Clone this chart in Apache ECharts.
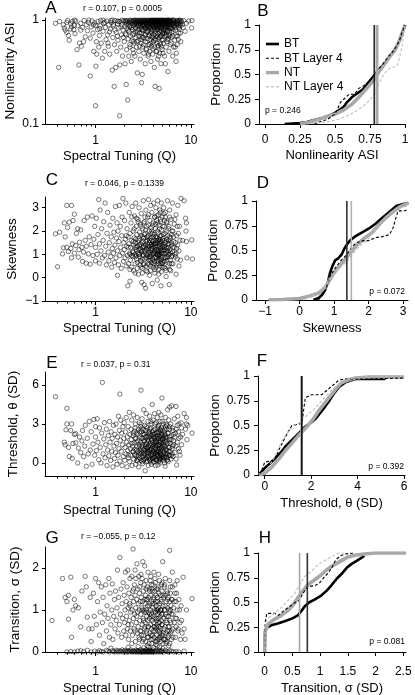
<!DOCTYPE html>
<html><head><meta charset="utf-8">
<script src="https://cdn.jsdelivr.net/npm/echarts@6/dist/echarts.min.js"></script>
<style>html,body{margin:0;padding:0;background:#fff}#c{width:415px;height:695px}</style>
</head><body><div id="c"></div>
<script>
// ---------------- DATA ----------------
// Panel A: Spectral tuning Q vs Nonlinearity ASI
const scatterA = [[0.38,0.93],[0.41,0.35],[0.42,0.97],[0.46,0.9],[0.47,0.84],[0.48,0.8],[0.5,0.76],[0.5,0.95],[0.51,0.99],[0.52,0.71],[0.53,0.64],[0.55,0.92],[0.56,0.86],[0.57,0.97],[0.59,0.81],[0.6,0.89],[0.61,0.74],[0.62,0.98],[0.64,0.52],[0.65,0.88],[0.67,0.37],[0.68,0.6],[0.7,0.93],[0.71,0.56],[0.73,0.85],[0.75,0.62],[0.76,0.99],[0.78,0.69],[0.8,0.9],[0.82,0.79],[0.84,0.95],[0.88,0.29],[0.88,0.67],[0.9,0.86],[0.92,0.98],[0.94,0.75],[0.96,0.5],[0.98,0.94],[1.0,0.15],[1.0,0.89],[1.01,0.36],[1.02,0.62],[1.03,0.47],[1.05,0.81],[1.06,0.97],[1.08,0.55],[1.1,0.71],[1.12,0.88],[1.13,0.99],[1.15,0.6],[1.18,0.43],[1.2,0.78],[1.22,0.93],[1.25,0.5],[1.27,0.85],[1.29,0.65],[1.31,0.98],[1.34,0.72],[1.36,0.56],[1.38,0.9],[1.41,0.47],[1.43,0.82],[1.46,0.95],[1.5,0.33],[1.52,0.68],[1.54,0.88],[1.57,0.23],[1.58,0.58],[1.6,0.99],[1.63,0.35],[1.65,0.76],[1.67,0.5],[1.7,0.92],[1.72,0.64],[1.75,0.84],[1.79,0.12],[1.8,0.37],[1.81,0.97],[1.84,0.55],[1.87,0.72],[1.9,0.9],[1.92,0.45],[1.95,0.8],[1.97,0.98],
[2.0,0.62],[2.02,0.87],[2.04,0.38],[2.06,0.74],[2.08,0.96],[2.1,0.24],[2.11,0.92],[2.12,0.52],[2.14,0.83],[2.16,0.99],[2.18,0.17],[2.2,0.66],[2.21,0.9],[2.23,0.45],[2.25,0.78],[2.27,0.96],[2.29,0.58],[2.31,0.86],[2.33,0.7],[2.35,0.99],[2.37,0.4],[2.39,0.93],[2.41,0.63],[2.43,0.81],[2.45,0.97],[2.47,0.52],[2.49,0.88],[2.51,0.74],[2.53,0.99],[2.55,0.6],[2.57,0.94],[2.59,0.45],[2.61,0.84],[2.63,0.98],[2.65,0.68],[2.67,0.9],[2.69,0.55],[2.71,0.95],[2.73,0.77],[2.75,0.31],[2.77,0.87],[2.79,0.99],[2.81,0.63],[2.83,0.92],[2.85,0.5],[2.87,0.82],[2.89,0.97],[2.91,0.7],[2.93,0.93],[2.95,0.42],[2.97,0.88],[2.99,0.99],
[3.0,0.6],[3.02,0.85],[3.04,0.25],[3.05,0.95],[3.07,0.75],[3.09,0.3],[3.1,0.9],[3.12,0.55],[3.14,0.98],[3.16,0.8],[3.18,0.68],[3.2,0.94],[3.22,0.48],[3.24,0.87],[3.26,0.99],[3.28,0.72],[3.3,0.92],[3.32,0.38],[3.34,0.62],[3.36,0.96],[3.38,0.83],[3.4,0.99],[3.42,0.53],[3.44,0.9],[3.46,0.76],[3.48,0.95],[3.5,0.66],[3.52,0.88],[3.54,0.99],[3.56,0.45],[3.58,0.8],[3.6,0.93],[3.62,0.58],[3.64,0.97],[3.66,0.72],[3.68,0.86],[3.7,0.99],[3.72,0.5],[3.74,0.91],[3.76,0.65],[3.78,0.83],[3.8,0.98],[3.82,0.4],[3.84,0.75],[3.86,0.94],[3.88,0.56],[3.9,0.88],[3.92,0.99],[3.94,0.68],[3.96,0.92],[3.98,0.47],
[4.0,0.8],[4.02,0.97],[4.04,0.62],[4.06,0.86],[4.08,0.99],[4.1,0.72],[4.12,0.9],[4.14,0.35],[4.16,0.55],[4.18,0.95],[4.2,0.78],[4.22,0.23],[4.24,0.88],[4.26,0.99],[4.28,0.64],[4.3,0.93],[4.32,0.5],[4.34,0.84],[4.36,0.97],[4.38,0.7],[4.4,0.9],[4.42,0.6],[4.44,0.99],[4.46,0.81],[4.48,0.42],[4.5,0.94],[4.52,0.74],[4.54,0.87],[4.56,0.99],[4.58,0.57],[4.6,0.92],[4.62,0.67],[4.64,0.85],[4.66,0.22],[4.68,0.97],[4.7,0.77],[4.72,0.48],[4.74,0.92],[4.76,0.6],[4.78,0.99],[4.8,0.83],[4.82,0.7],[4.84,0.95],[4.86,0.38],[4.88,0.88],[4.9,0.55],[4.92,0.99],[4.94,0.78],[4.96,0.93],[4.98,0.65],
[5.02,0.86],[5.06,0.97],[5.1,0.48],[5.13,0.77],[5.16,0.92],[5.2,0.6],[5.24,0.99],[5.28,0.83],[5.32,0.7],[5.36,0.95],[5.4,0.38],[5.45,0.88],[5.5,0.55],[5.55,0.99],[5.6,0.78],[5.65,0.93],[5.7,0.65],[5.75,0.32],[5.8,0.86],[5.85,0.98],[5.9,0.5],[5.95,0.9],[6.0,0.72],[6.05,0.99],[6.15,0.84],[6.25,0.6],[6.35,0.95],[6.45,0.45],[6.55,0.78],[6.65,0.97],[6.75,0.88],[6.85,0.55],[6.95,0.92],[7.0,0.4],[7.05,0.48],[7.15,0.99],[7.25,0.7],[7.45,0.85],[7.65,0.95],[7.85,0.62],[8.1,0.9],[8.4,0.99],[8.7,0.78],[9.0,0.93],[9.5,0.98],[10.2,0.84],[10.3,0.99],
[2.3,1.0],[2.4,0.97],[2.5,0.99],[2.6,1.0],[2.7,0.96],[2.8,1.0],[2.9,0.98],[3.0,1.0],[3.1,0.97],[3.2,1.0],[3.3,0.99],[3.4,0.96],[3.5,1.0],[3.6,0.98],[3.7,0.96],[3.8,1.0],[3.9,0.97],[4.0,1.0],[4.1,0.98],[4.2,1.0],[4.3,0.96],[4.4,1.0],[4.5,0.98],[4.6,1.0],[4.7,0.96],[4.8,0.99],[4.9,1.0],[5.0,0.97],[5.2,1.0],[5.4,0.98],[5.6,1.0],[5.8,0.96],[6.0,1.0],[6.2,0.97],[6.4,1.0],[2.55,0.91],[2.85,0.89],[3.15,0.91],[3.45,0.86],[3.75,0.9],[4.05,0.89],[4.35,0.91],[4.65,0.88],[4.95,0.9],[5.3,0.89],[5.7,0.91],[6.1,0.87],[3.05,0.82],[3.55,0.84],[4.15,0.82],[4.75,0.8],[5.45,0.82],[2.75,0.8],[3.85,0.78],[4.45,0.7],[3.35,0.73],[5.05,0.74],[2.45,0.72],[5.6,0.7],[6.3,0.9],[6.6,1.0],[7.3,0.97],[7.6,1.0],[1.5,1.0],[1.7,0.98],[1.9,1.0],[2.1,0.98],[1.2,1.0],[0.85,1.0],[0.6,1.0],
[5.1,0.99],[5.3,0.95],[5.5,0.91],[5.7,0.99],[5.9,0.94],[6.1,0.97],[6.3,0.85],[6.5,0.93],[6.7,0.99],[6.9,0.8],[7.1,0.9],[7.3,0.99],[7.5,0.75],[7.7,0.88],[7.9,0.97],[5.2,0.8],[5.5,0.72],[5.8,0.66],[6.1,0.58],[6.4,0.7],[6.8,0.64],[7.2,0.58],[2.2,0.8],[2.4,0.85],[2.6,0.77],[2.8,0.7],[3.0,0.65],[3.2,0.58],[3.4,0.52],[3.6,0.47],[3.8,0.6],[4.0,0.53],[4.2,0.66],[4.4,0.5],[4.6,0.45],[4.8,0.58],[5.0,0.52],[5.3,0.45],[2.3,0.55],[2.5,0.48],[2.7,0.62],[2.9,0.75],[3.1,0.68],[3.3,0.84],[3.5,0.78],[3.7,0.7],[3.9,0.8],[4.1,0.85],[4.3,0.74],[4.5,0.82],[4.7,0.86],[4.9,0.7],[5.1,0.64],[5.4,0.86],[5.7,0.8],[6.0,0.83],[1.1,0.83],[1.25,0.95],[1.4,0.77],[1.55,0.91],[1.7,0.7],[1.85,0.86],[1.35,0.6],[1.6,0.8],[1.75,0.97],[1.95,0.68],[0.95,0.9],[0.7,0.8],[0.55,0.82],[1.45,0.99],[2.05,0.99],[2.65,0.99],[3.25,0.97],[3.85,0.99],[4.55,0.97],[5.15,0.99],[5.75,0.98],[6.45,0.99],[3.65,0.92],[4.25,0.94],[2.95,0.95],[3.95,0.96],[4.85,0.93],[5.55,0.96],
[5.2,0.9],[5.4,0.93],[5.6,0.85],[5.8,0.9],[6.0,0.95],[6.2,0.91],[6.4,0.82],[6.6,0.88],[6.8,0.95],[7.0,0.85],[7.2,0.92],[7.4,0.9],[7.6,0.82],[7.8,0.93],[8.0,0.98],[8.3,0.85],[5.3,0.75],[5.6,0.62],[5.9,0.78],[6.2,0.68],[6.6,0.55],[7.0,0.7],[7.4,0.65],[7.8,0.75],[2.1,0.72],[2.3,0.88],[2.5,0.62],[2.7,0.92],[2.9,0.56],[3.1,0.8],[3.3,0.66],[3.5,0.88],[3.7,0.58],[3.9,0.7],[4.1,0.64],[4.3,0.88],[4.5,0.56],[4.7,0.68],[4.9,0.84],[5.1,0.74],[5.5,0.8],[5.9,0.7],[6.3,0.76],[2.2,0.95],[2.6,0.94],[3.0,0.97],[3.4,0.93],[3.8,0.95],[4.2,0.97],[4.6,0.95],[5.0,0.94],[5.4,0.99],[5.8,1.0],[6.6,0.93],[7.2,0.95],[7.7,0.99],[3.2,0.88],[3.6,0.86],[4.0,0.9],[4.4,0.86]];

// Panel C: Q vs Skewness
const scatterC = [[0.38,1.88],[0.4,0.47],[0.42,1.95],[0.45,1.02],[0.46,1.28],[0.47,2.35],[0.48,1.75],[0.5,3.1],[0.5,1.3],[0.51,2.15],[0.52,1.12],[0.53,2.38],[0.55,1.25],[0.56,3.1],[0.56,0.85],[0.57,1.45],[0.58,2.45],[0.6,1.05],[0.6,2.72],[0.62,1.38],[0.63,1.9],[0.65,2.1],[0.66,0.88],[0.67,1.2],[0.68,1.52],[0.7,2.05],[0.72,1.3],[0.73,0.7],[0.75,1.1],[0.76,2.45],[0.78,1.6],[0.8,0.62],[0.8,1.35],[0.82,2.6],[0.84,1.02],[0.86,1.75],[0.88,0.58],[0.9,1.42],[0.92,2.65],[0.94,0.95],[0.96,1.65],[0.98,2.2],[1.0,0.72],[1.0,1.3],[1.02,2.55],[1.04,1.0],[1.06,1.85],[1.08,3.35],[1.1,0.62],[1.1,1.45],[1.12,2.9],[1.14,1.15],[1.16,2.1],[1.18,0.85],[1.2,1.6],[1.22,2.4],[1.24,0.95],[1.26,3.2],[1.28,1.35],[1.3,0.55],[1.32,1.9],[1.34,2.8],[1.36,1.1],[1.38,0.72],[1.4,1.5],[1.42,2.25],[1.44,0.9],[1.46,1.75],[1.48,0.45],[1.5,1.25],[1.52,2.55],[1.54,1.05],[1.56,1.95],[1.58,0.65],[1.6,1.4],[1.62,3.05],[1.64,0.85],[1.66,1.7],[1.68,2.35],[1.7,0.1],[1.7,1.15],[1.72,2.0],[1.74,0.55],[1.76,1.55],[1.78,3.1],[1.8,0.95],[1.82,2.2],[1.84,1.3],[1.86,0.4],[1.88,1.8],[1.9,2.6],[1.92,1.05],[1.94,3.4],[1.96,0.7],[1.98,1.5],
[2.0,1.2],[2.02,2.45],[2.04,0.85],[2.06,1.65],[2.08,3.2],[2.1,0.5],[2.12,1.35],[2.14,2.1],[2.16,0.95],[2.18,-0.35],[2.2,1.75],[2.22,0.6],[2.24,1.45],[2.26,2.8],[2.28,1.05],[2.3,-0.15],[2.3,1.9],[2.32,0.75],[2.34,1.3],[2.36,2.35],[2.38,0.45],[2.4,1.6],[2.42,3.05],[2.44,1.1],[2.46,0.9],[2.48,2.0],[2.5,1.4],[2.52,0.3],[2.54,1.7],[2.56,2.65],[2.58,1.0],[2.6,0.6],[2.62,1.5],[2.64,3.2],[2.66,1.2],[2.68,2.2],[2.7,0.8],[2.72,1.85],[2.74,0.4],[2.76,1.35],[2.78,2.5],[2.8,1.05],[2.82,0.15],[2.84,1.6],[2.86,3.0],[2.88,0.9],[2.9,1.95],[2.92,1.25],[2.94,0.55],[2.96,2.3],[2.98,1.45],
[3.0,0.7],[3.0,1.8],[3.02,2.75],[3.04,1.1],[3.06,-0.2],[3.08,1.5],[3.1,0.4],[3.12,2.1],[3.14,1.3],[3.16,0.95],[3.18,3.3],[3.2,1.7],[3.22,0.6],[3.24,-0.3],[3.26,2.4],[3.28,1.15],[3.3,0.8],[3.32,1.9],[3.34,1.4],[3.36,-0.45],[3.38,2.9],[3.4,0.5],[3.42,1.25],[3.44,2.2],[3.46,1.0],[3.48,1.6],[3.5,0.25],[3.52,2.6],[3.54,1.35],[3.56,0.85],[3.58,1.8],[3.6,3.35],[3.62,1.1],[3.64,0.55],[3.66,2.0],[3.68,1.5],[3.7,0.9],[3.72,2.45],[3.74,1.2],[3.76,0.3],[3.78,1.7],[3.8,3.1],[3.82,1.0],[3.84,2.15],[3.86,0.65],[3.88,1.45],[3.9,2.8],[3.92,1.25],[3.94,-0.25],[3.96,1.9],[3.98,0.8],
[4.0,1.55],[4.02,2.35],[4.04,1.05],[4.06,0.45],[4.08,3.2],[4.1,1.35],[4.12,1.85],[4.14,0.7],[4.16,2.6],[4.18,1.15],[4.2,0.2],[4.22,1.6],[4.24,2.1],[4.26,0.9],[4.28,1.4],[4.3,3.0],[4.32,0.55],[4.34,1.75],[4.36,1.2],[4.38,2.45],[4.4,0.85],[4.42,1.5],[4.44,-0.1],[4.46,2.0],[4.48,1.0],[4.5,3.3],[4.52,1.3],[4.54,0.6],[4.56,1.9],[4.58,2.7],[4.6,1.1],[4.62,0.35],[4.64,1.65],[4.66,2.25],[4.68,0.8],[4.7,1.45],[4.72,2.9],[4.74,1.0],[4.76,0.5],[4.78,1.8],[4.8,1.25],[4.82,2.4],[4.84,0.7],[4.86,-0.35],[4.88,1.55],[4.9,3.2],[4.92,1.05],[4.94,2.05],[4.96,0.9],[4.98,1.4],
[5.02,2.6],[5.06,0.65],[5.1,1.7],[5.14,1.15],[5.18,3.0],[5.22,0.45],[5.26,2.2],[5.3,1.3],[5.34,0.85],[5.38,1.9],[5.42,2.8],[5.46,1.05],[5.5,0.3],[5.54,1.55],[5.58,2.4],[5.62,0.75],[5.66,1.25],[5.7,3.3],[5.74,1.8],[5.78,0.5],[5.82,1.0],[5.86,2.1],[5.9,1.45],[5.94,-0.3],[5.98,0.6],[6.0,2.9],[6.05,1.2],[6.1,1.7],[6.15,0.3],[6.2,2.5],[6.25,0.9],[6.3,1.4],[6.35,2.0],[6.4,3.2],[6.45,1.1],[6.5,0.6],[6.6,1.75],[6.7,2.3],[6.8,1.0],[6.9,1.5],[7.0,0.15],[7.0,2.7],[7.1,1.25],[7.2,0.8],[7.3,3.1],[7.4,1.9],[7.5,1.15],[7.6,2.2],[7.8,0.75],[7.9,3.4],[8.2,1.6],[8.5,3.3],[8.8,2.55],[8.9,2.0],[9.0,2.35],[9.0,1.55],[9.1,0.85],[10.2,1.62],[10.4,0.8],
[2.5,1.1],[2.6,0.9],[2.7,1.3],[2.8,1.5],[2.9,1.0],[3.0,1.2],[3.1,0.8],[3.2,1.35],[3.3,1.05],[3.4,1.55],[3.5,0.95],[3.6,1.25],[3.7,1.6],[3.8,0.75],[3.9,1.15],[4.0,1.0],[4.1,1.45],[4.2,0.85],[4.3,1.3],[4.4,1.7],[4.5,0.95],[4.6,1.2],[4.7,1.0],[4.8,1.5],[4.9,0.8],[5.0,1.3],[5.2,1.05],[5.4,1.5],[5.6,0.9],[5.8,1.3],[6.0,1.0],[2.65,1.65],[2.95,0.75],[3.25,1.85],[3.55,0.6],[3.85,1.4],[4.15,1.1],[4.45,0.7],[4.75,1.35],[5.05,1.6],[5.35,0.7],[5.65,1.15],[3.15,1.55],[3.45,1.2],[3.75,0.9],[4.05,1.75],[4.35,1.0],[4.65,1.6],[4.95,1.15],[5.25,1.35],[2.85,1.2],[3.65,1.0],[4.25,1.5],[4.85,0.6],
[2.6,1.3],[2.75,0.65],[2.9,1.7],[3.05,1.15],[3.2,0.55],[3.35,2.05],[3.5,1.45],[3.65,0.75],[3.8,1.9],[3.95,1.35],[4.1,0.6],[4.25,2.3],[4.4,1.2],[4.55,0.75],[4.7,2.1],[4.85,1.15],[5.0,0.45],[5.15,1.85],[5.3,2.45],[5.45,0.85],[5.6,1.65],[5.75,1.1],[5.9,2.2],[6.1,0.75],[6.3,1.85],[6.5,1.3],[2.55,2.1],[2.7,2.55],[3.0,2.2],[3.3,2.6],[3.6,2.25],[3.9,2.0],[4.2,2.6],[4.5,2.35],[4.8,2.8],[5.1,2.2],[5.4,2.6],[2.4,0.95],[2.2,1.3],[2.1,1.8],[2.3,0.35],[3.1,0.2],[3.7,0.1],[4.3,0.45],[4.9,0.25],[5.5,0.05],[6.0,0.35],[3.4,0.85],[4.0,0.75],[4.6,0.95],[5.2,0.7],[3.15,1.0],[3.85,1.25],[4.45,1.6],[5.05,1.05],[2.85,1.0],[3.55,1.7],[4.15,1.45],[4.75,0.9],[5.35,1.2],
[5.5,1.3],[5.7,0.9],[5.9,1.6],[6.1,1.1],[6.3,0.6],[6.5,2.0],[6.7,1.3],[6.9,0.9],[7.1,1.8],[7.3,1.4],[7.5,0.5],[7.7,1.6],[5.6,2.0],[5.8,1.45],[6.0,1.75],[6.2,1.5],[6.4,0.95],[6.6,1.55],[6.8,2.5],[7.0,1.05],[7.2,2.2],[2.3,1.0],[2.5,1.55],[2.7,0.95],[2.9,1.4],[3.1,1.75],[3.3,1.3],[3.5,1.75],[3.7,1.35],[3.9,1.6],[4.1,1.05],[4.3,1.75],[4.5,1.15],[4.7,1.55],[4.9,1.8],[5.1,1.35],[5.3,1.6],[2.4,2.6],[2.8,2.4],[3.2,2.35],[3.6,2.7],[4.0,2.25],[4.4,2.65],[4.8,2.5],[5.2,2.75],[5.6,2.35],[6.0,2.6],[2.6,0.2],[3.0,0.45],[3.4,0.3],[3.8,0.5],[4.2,0.35],[4.6,0.15],[5.0,0.6],[5.4,0.4]];

// Panel E: Q vs Threshold (SD)
const scatterE = [[0.38,5.1],[0.47,1.6],[0.48,1.4],[0.49,2.55],[0.5,4.2],[0.5,3.0],[0.52,1.2],[0.53,0.5],[0.55,2.5],[0.56,3.0],[0.57,0.35],[0.58,1.5],[0.6,2.2],[0.62,1.55],[0.62,2.25],[0.65,0.0],[0.66,1.15],[0.68,2.0],[0.7,0.8],[0.72,1.7],[0.73,2.5],[0.75,0.5],[0.77,1.3],[0.78,2.9],[0.8,-0.25],[0.82,1.9],[0.84,0.7],[0.86,3.2],[0.88,1.0],[0.9,2.4],[0.92,-0.1],[0.94,1.45],[0.96,3.35],[0.98,0.6],[1.0,2.0],[1.0,2.8],[1.02,0.95],[1.04,3.4],[1.06,1.6],[1.08,0.25],[1.1,2.7],[1.12,1.2],[1.14,0.0],[1.16,2.3],[1.18,6.2],[1.2,0.7],[1.22,1.85],[1.24,3.1],[1.26,0.4],[1.28,1.4],[1.3,2.6],[1.32,-0.2],[1.34,1.0],[1.36,2.1],[1.38,0.55],[1.4,3.2],[1.42,1.6],[1.44,0.2],[1.46,2.4],[1.48,0.9],[1.5,1.9],[1.52,-0.3],[1.54,2.9],[1.56,1.3],[1.58,0.35],[1.6,2.2],[1.62,0.8],[1.64,3.0],[1.66,1.5],[1.68,-0.1],[1.7,2.0],[1.72,0.6],[1.74,3.6],[1.76,1.1],[1.78,2.5],[1.8,5.3],[1.8,0.15],[1.82,1.75],[1.84,3.3],[1.86,0.9],[1.88,2.3],[1.9,-0.2],[1.92,1.4],[1.94,2.8],[1.96,0.5],[1.98,1.9],
[2.0,3.1],[2.02,0.2],[2.04,1.2],[2.06,2.4],[2.08,0.7],[2.1,3.5],[2.12,1.6],[2.14,-0.3],[2.16,2.0],[2.18,0.95],[2.2,2.8],[2.22,0.4],[2.24,1.4],[2.26,3.9],[2.28,0.1],[2.3,2.2],[2.32,1.1],[2.34,0.6],[2.36,2.6],[2.38,1.8],[2.4,3.3],[2.42,-0.2],[2.44,1.3],[2.46,0.85],[2.48,2.1],[2.5,3.7],[2.52,0.3],[2.54,1.55],[2.56,2.45],[2.58,0.65],[2.6,1.05],[2.62,3.0],[2.64,-0.1],[2.66,1.9],[2.68,0.5],[2.7,2.3],[2.72,1.25],[2.74,3.5],[2.76,0.15],[2.78,1.7],[2.8,0.9],[2.82,2.6],[2.84,-0.3],[2.86,1.45],[2.88,3.1],[2.9,0.4],[2.92,2.0],[2.94,1.0],[2.96,0.7],[2.98,2.8],
[3.0,5.6],[3.0,1.6],[3.02,0.2],[3.04,2.4],[3.06,0.8],[3.08,3.4],[3.1,1.2],[3.12,-0.05],[3.14,1.9],[3.16,0.55],[3.18,2.2],[3.2,4.1],[3.22,1.0],[3.24,0.3],[3.26,1.7],[3.28,2.9],[3.3,0.7],[3.32,-0.6],[3.34,1.4],[3.36,2.5],[3.38,0.9],[3.4,3.8],[3.42,0.1],[3.44,2.0],[3.46,1.15],[3.48,0.5],[3.5,2.7],[3.52,1.8],[3.54,0.75],[3.56,3.2],[3.58,-0.2],[3.6,1.3],[3.62,2.3],[3.64,0.4],[3.66,1.95],[3.68,0.95],[3.7,3.6],[3.72,0.15],[3.74,2.6],[3.76,1.5],[3.78,0.6],[3.8,2.1],[3.82,1.05],[3.84,3.0],[3.86,-0.1],[3.88,1.75],[3.9,0.8],[3.92,2.4],[3.94,4.5],[3.96,0.35],[3.98,1.25],
[4.0,2.0],[4.02,0.65],[4.04,3.3],[4.06,1.4],[4.08,0.1],[4.1,2.2],[4.12,0.9],[4.14,1.85],[4.16,3.8],[4.18,0.45],[4.2,1.55],[4.22,2.6],[4.24,-0.2],[4.26,1.1],[4.28,2.0],[4.3,0.7],[4.32,3.1],[4.34,1.3],[4.36,0.25],[4.38,2.35],[4.4,0.85],[4.42,1.7],[4.44,3.5],[4.46,0.5],[4.48,2.1],[4.5,1.0],[4.52,-0.15],[4.54,1.9],[4.56,2.8],[4.58,0.6],[4.6,1.45],[4.62,3.9],[4.64,0.3],[4.66,2.3],[4.68,1.15],[4.7,0.75],[4.72,2.05],[4.74,3.2],[4.76,0.0],[4.78,1.6],[4.8,2.5],[4.82,0.9],[4.84,1.3],[4.86,3.7],[4.88,0.4],[4.9,1.85],[4.92,2.7],[4.94,0.65],[4.96,1.2],[4.98,5.0],
[5.02,2.2],[5.06,0.5],[5.1,1.6],[5.14,3.0],[5.18,0.2],[5.22,1.9],[5.26,0.85],[5.3,2.6],[5.34,1.3],[5.38,-0.25],[5.42,3.5],[5.46,1.0],[5.5,2.0],[5.54,0.4],[5.58,2.9],[5.62,1.5],[5.66,0.7],[5.7,4.1],[5.74,2.3],[5.78,0.1],[5.82,1.2],[5.86,3.3],[5.9,0.6],[5.94,1.8],[5.98,2.6],[6.0,4.3],[6.05,0.9],[6.1,1.5],[6.15,3.0],[6.2,0.3],[6.25,2.1],[6.3,4.4],[6.35,1.1],[6.4,2.7],[6.5,0.5],[6.6,1.7],[6.7,3.4],[6.8,0.8],[6.9,2.3],[7.0,4.35],[7.0,1.3],[7.1,-0.15],[7.2,2.9],[7.3,3.6],[7.5,1.9],[7.7,0.6],[7.9,3.1],[8.2,2.2],[8.5,3.8],[8.8,2.6],[9.0,3.5],[9.0,3.0],[9.1,1.8],[9.3,2.9],[10.3,2.3],
[2.6,0.6],[2.8,0.3],[3.0,0.9],[3.1,0.45],[3.2,0.7],[3.3,1.1],[3.4,0.35],[3.5,0.8],[3.6,0.55],[3.7,1.0],[3.8,0.3],[3.9,0.65],[4.0,0.95],[4.1,0.4],[4.2,0.75],[4.3,1.05],[4.4,0.2],[4.5,0.6],[4.6,0.9],[4.7,0.45],[4.8,0.7],[4.9,1.1],[5.0,0.35],[5.2,0.75],[5.4,0.55],[5.6,1.0],[3.05,1.9],[3.25,2.2],[3.45,1.6],[3.65,2.4],[3.85,1.85],[4.05,2.5],[4.25,1.7],[4.45,2.3],[4.65,1.9],[4.85,2.1],[5.05,1.75],[5.25,2.4],[5.45,1.95],[3.15,2.6],[3.55,2.05],[3.95,2.2],[4.35,1.5],[4.75,2.6],[5.15,2.0],[3.35,1.25],[3.75,1.35],[4.15,1.2],[4.55,1.35],[4.95,1.5],[2.7,1.0],[2.9,1.3],[3.5,0.15],[4.0,0.05],[4.6,0.1],[5.3,0.0],
[2.6,1.9],[2.8,2.2],[3.0,2.6],[3.2,1.7],[3.4,2.3],[3.6,1.7],[3.8,2.7],[4.0,1.6],[4.2,2.3],[4.4,1.9],[4.6,2.4],[4.8,1.7],[5.0,2.5],[5.2,1.4],[5.4,2.2],[5.6,2.6],[5.8,1.6],[6.0,2.0],[2.7,0.2],[2.9,0.8],[3.1,0.1],[3.3,0.55],[3.5,1.0],[3.7,0.25],[3.9,0.45],[4.1,0.75],[4.3,0.3],[4.5,0.85],[4.7,0.2],[4.9,0.55],[5.1,0.95],[5.3,0.4],[5.5,0.7],[5.7,0.25],[5.9,0.85],[6.2,0.55],[3.05,1.3],[3.45,1.45],[3.85,1.1],[4.25,1.35],[4.65,1.05],[5.05,1.3],[5.45,1.15],[6.4,1.3],[2.4,1.5],[2.2,0.6],[2.5,2.3],[6.6,2.2],[7.0,2.6],[7.4,1.1],
[5.2,1.1],[5.4,1.6],[5.6,0.45],[5.8,2.3],[6.0,1.2],[6.2,1.8],[6.4,0.7],[6.6,1.4],[6.8,2.0],[7.0,0.3],[7.2,1.6],[7.4,2.4],[7.6,0.9],[7.8,2.0],[8.0,1.4],[5.5,3.0],[6.0,2.8],[6.5,2.5],[7.5,3.0],[8.0,2.7],[2.5,0.9],[2.7,1.6],[2.9,2.4],[3.1,1.4],[3.3,2.0],[3.5,1.2],[3.7,2.2],[3.9,1.4],[4.1,2.0],[4.3,1.6],[4.5,2.7],[4.7,1.4],[4.9,2.3],[5.1,1.85],[5.3,2.1],[5.5,1.7],[2.6,2.7],[3.0,3.0],[3.4,2.8],[3.8,3.2],[4.2,3.0],[4.6,2.9],[5.0,3.2],[5.4,2.8],[2.8,0.55],[3.2,0.2],[3.6,0.9],[4.0,0.25],[4.4,0.65],[4.8,0.3],[5.2,0.45],[5.6,0.2],[6.0,0.6]];

// Panel G: Q vs Transition (SD)
const scatterG = [[0.5,0.0],[0.55,0.01],[0.6,0.0],[0.65,0.02],[0.7,0.03],[0.75,0.01],[0.82,0.04],[0.9,0.0],[0.98,0.02],[1.05,0.0],[1.1,0.03],[1.15,0.01],[1.2,0.0],[1.3,0.04],[1.35,0.02],[1.4,0.0],[1.5,0.03],[1.55,0.01],[1.6,0.0],[1.65,0.04],[1.7,0.02],[1.75,0.0],[1.8,0.03],[1.85,0.01],[1.9,0.05],[1.95,0.0],[2.0,0.02],[2.05,0.04],[2.1,0.0],[2.15,0.01],[2.2,0.03],[2.25,0.0],[2.3,0.02],[2.35,0.05],[2.4,0.01],[2.45,0.0],[2.5,0.03],[2.55,0.01],[2.6,0.0],[2.65,0.04],[2.7,0.02],[2.75,0.0],[2.8,0.03],[2.85,0.01],[2.9,0.0],[2.95,0.05],[3.0,0.02],[3.05,0.0],[3.1,0.04],[3.15,0.01],[3.2,0.0],[3.25,0.03],[3.3,0.02],[3.35,0.0],[3.4,0.05],[3.45,0.01],[3.5,0.0],[3.55,0.03],[3.6,0.02],[3.65,0.0],[3.7,0.04],[3.75,0.01],[3.8,0.0],[3.85,0.03],[3.9,0.02],[3.95,0.0],[4.0,0.05],[4.1,0.01],[4.2,0.0],[4.3,0.03],[4.4,0.02],[4.5,0.0],[4.6,0.04],[4.7,0.01],[4.8,0.0],[4.9,0.03],[5.0,0.02],[5.2,0.0],[5.4,0.04],[5.6,0.01],[5.8,0.0],[6.0,0.03],[6.3,0.02],[6.6,0.0],[7.0,0.01],[7.5,0.0],[8.5,0.02],[4.05,0.1],[3.6,0.12],[4.45,0.15],[3.2,0.1],[2.8,0.13],[5.1,0.08],[1.45,0.09],[2.2,0.11],
[0.35,0.75],[0.45,1.75],[0.48,1.3],[0.5,1.2],[0.52,1.35],[0.52,0.78],[0.55,1.78],[0.56,0.35],[0.58,1.0],[0.6,1.25],[0.62,1.1],[0.66,1.05],[0.7,0.6],[0.72,1.45],[0.78,1.8],[0.8,1.55],[0.82,0.83],[0.85,0.55],[0.88,1.3],[0.9,0.25],[0.92,0.55],[0.95,1.4],[0.97,0.85],[1.0,1.75],[1.02,0.65],[1.05,1.2],[1.08,1.65],[1.1,0.4],[1.12,0.95],[1.15,1.55],[1.18,0.7],[1.2,1.3],[1.22,0.2],[1.25,0.9],[1.28,1.6],[1.3,0.5],[1.32,1.1],[1.35,0.8],[1.38,1.75],[1.4,0.35],[1.42,1.4],[1.45,0.65],[1.48,1.0],[1.5,1.62],[1.52,0.3],[1.55,0.85],[1.58,1.25],[1.6,0.55],[1.62,1.45],[1.65,0.75],[1.68,1.05],[1.7,1.95],[1.72,0.45],[1.75,1.3],[1.78,0.65],[1.8,2.25],[1.82,0.9],[1.85,1.5],[1.88,0.35],[1.9,1.15],[1.92,0.8],[1.95,1.65],[1.98,0.5],
[2.0,1.35],[2.02,0.7],[2.04,1.0],[2.06,1.9],[2.08,0.4],[2.1,1.2],[2.12,0.85],[2.14,1.55],[2.16,0.55],[2.18,1.95],[2.2,1.05],[2.22,0.3],[2.24,1.4],[2.26,0.75],[2.28,1.15],[2.3,1.75],[2.32,0.5],[2.34,0.95],[2.36,1.3],[2.38,0.65],[2.4,1.8],[2.42,1.0],[2.44,0.4],[2.46,1.45],[2.48,2.45],[2.5,0.8],[2.52,1.2],[2.54,0.55],[2.56,1.6],[2.58,0.9],[2.6,1.35],[2.62,0.25],[2.64,1.05],[2.66,1.75],[2.68,0.7],[2.7,1.25],[2.72,2.1],[2.74,0.45],[2.76,0.95],[2.78,1.5],[2.8,0.6],[2.82,1.15],[2.84,1.8],[2.86,0.35],[2.88,1.0],[2.9,1.4],[2.92,0.75],[2.94,1.2],[2.96,0.5],[2.98,1.65],
[3.0,0.9],[3.02,1.3],[3.04,0.4],[3.06,1.05],[3.08,1.75],[3.1,0.65],[3.12,1.2],[3.14,2.15],[3.16,0.8],[3.18,1.45],[3.2,0.3],[3.22,1.0],[3.24,1.6],[3.26,0.55],[3.28,2.05],[3.3,1.15],[3.32,0.7],[3.34,1.35],[3.36,0.25],[3.38,0.95],[3.4,1.7],[3.42,0.5],[3.44,1.25],[3.46,0.85],[3.48,1.55],[3.5,0.35],[3.52,1.1],[3.54,0.75],[3.56,1.9],[3.58,0.6],[3.6,1.3],[3.62,0.95],[3.64,0.2],[3.66,1.5],[3.68,0.8],[3.7,1.15],[3.72,0.45],[3.74,1.7],[3.76,1.0],[3.78,0.65],[3.8,1.35],[3.82,0.3],[3.84,0.9],[3.86,1.6],[3.88,0.55],[3.9,1.2],[3.92,0.75],[3.94,1.45],[3.96,0.4],[3.98,1.05],
[4.0,0.85],[4.02,1.6],[4.04,0.5],[4.06,1.25],[4.08,0.7],[4.1,1.9],[4.12,0.35],[4.14,1.0],[4.16,1.45],[4.18,0.6],[4.2,1.15],[4.22,0.8],[4.24,1.65],[4.26,0.25],[4.28,0.95],[4.3,1.35],[4.32,0.55],[4.34,1.1],[4.36,0.75],[4.38,1.5],[4.4,0.4],[4.42,1.0],[4.44,0.65],[4.46,1.3],[4.48,0.9],[4.5,0.3],[4.52,1.2],[4.54,0.5],[4.56,1.55],[4.58,0.8],[4.6,1.05],[4.62,0.6],[4.64,1.4],[4.66,0.35],[4.68,0.95],[4.7,1.7],[4.72,0.7],[4.74,1.15],[4.76,0.45],[4.78,0.85],[4.8,1.35],[4.82,0.55],[4.84,1.0],[4.86,0.25],[4.88,1.25],[4.9,0.75],[4.92,1.6],[4.94,0.4],[4.96,0.9],[4.98,1.45],
[5.02,0.65],[5.06,2.15],[5.1,1.1],[5.14,0.45],[5.18,1.3],[5.22,0.8],[5.26,1.55],[5.3,0.3],[5.34,1.0],[5.38,0.6],[5.42,1.35],[5.46,0.9],[5.5,0.2],[5.54,1.2],[5.58,0.7],[5.62,1.45],[5.66,0.5],[5.7,1.05],[5.74,0.35],[5.78,1.3],[5.82,0.85],[5.86,0.15],[5.9,1.0],[5.94,0.6],[5.98,1.2],[6.0,2.42],[6.05,0.75],[6.1,1.4],[6.15,0.45],[6.2,1.1],[6.25,0.3],[6.3,0.9],[6.35,1.25],[6.4,1.9],[6.5,0.55],[6.6,1.05],[6.7,0.7],[6.8,1.4],[6.9,0.35],[7.0,1.2],[7.1,0.8],[7.2,1.7],[7.4,0.55],[7.6,1.0],[7.8,0.3],[8.0,0.75],[8.3,1.78],[8.5,0.55],[8.7,0.3],[9.0,1.0],[10.3,1.27],
[3.0,0.5],[3.2,0.75],[3.4,1.0],[3.6,0.6],[3.8,0.85],[4.0,1.15],[4.2,0.5],[4.4,0.8],[4.6,0.7],[4.8,1.0],[5.0,0.9],[5.2,0.55],[5.4,1.1],[5.6,0.85],[5.8,0.6],[6.0,0.95],[6.2,0.7],[3.1,0.25],[3.5,0.15],[3.9,0.2],[4.3,0.18],[4.7,0.12],[5.1,0.2],[5.5,0.45],[2.9,0.3],[3.3,1.25],[3.7,1.45],[4.1,1.3],[4.5,1.5],[4.9,1.2],[5.3,1.6],[5.7,1.25],[6.1,1.55],[6.5,0.9],[2.6,0.5],[2.4,0.2],[2.2,0.65],[3.45,0.45],[3.85,0.4],[4.25,0.95],[4.65,0.3],[5.05,0.4],[5.45,0.3],[5.85,0.4],[6.3,0.5],[7.0,0.6],[4.35,0.6],[4.95,0.65],[3.25,0.95],[3.65,1.1],
[5.3,1.0],[5.5,0.75],[5.7,1.4],[5.9,0.5],[6.1,1.0],[6.3,1.25],[6.5,0.35],[6.7,1.2],[6.9,0.8],[7.1,1.4],[7.3,0.5],[7.5,1.25],[7.7,0.7],[7.9,1.1],[8.1,0.45],[6.0,1.7],[6.4,1.55],[6.8,1.6],[7.2,1.0],[2.3,1.1],[2.5,1.5],[2.7,0.85],[2.9,1.55],[3.1,1.0],[3.3,0.6],[3.5,1.25],[3.7,0.9],[3.9,1.5],[4.1,0.6],[4.3,1.2],[4.5,1.0],[4.7,0.5],[4.9,1.0],[5.1,1.35],[2.6,1.95],[3.0,1.85],[3.4,1.5],[3.8,1.8],[4.2,1.75],[4.6,1.85],[5.0,1.65],[5.4,1.75],[3.2,0.4],[3.6,0.35],[4.0,0.3],[4.4,0.25],[4.8,0.35],[5.2,0.3],[5.6,0.25],[6.0,0.2]];

// Cumulative distributions (x, proportion)
const cdfB_BT   = [[0.14,0],[0.25,0.01],[0.3,0.02],[0.35,0.04],[0.41,0.06],[0.47,0.09],[0.52,0.13],[0.56,0.17],[0.58,0.21],[0.62,0.27],[0.66,0.31],[0.7,0.35],[0.74,0.42],[0.78,0.49],[0.82,0.56],[0.86,0.62],[0.9,0.7],[0.94,0.78],[0.97,0.88],[1.0,1.0]];
const cdfB_BTL4 = [[0.35,0],[0.45,0.05],[0.5,0.1],[0.54,0.22],[0.57,0.26],[0.6,0.3],[0.64,0.3],[0.67,0.36],[0.72,0.4],[0.76,0.46],[0.8,0.54],[0.84,0.6],[0.88,0.68],[0.92,0.74],[0.96,0.84],[0.98,0.93],[1.0,1.0]];
const cdfB_NT   = [[0.25,0],[0.32,0.02],[0.41,0.06],[0.5,0.1],[0.56,0.14],[0.62,0.2],[0.67,0.27],[0.72,0.35],[0.77,0.43],[0.81,0.52],[0.85,0.6],[0.89,0.68],[0.93,0.75],[0.96,0.84],[0.98,0.92],[1.0,1.0]];
const cdfB_NTL4 = [[0.3,0],[0.45,0.02],[0.53,0.05],[0.6,0.09],[0.66,0.14],[0.71,0.19],[0.76,0.26],[0.79,0.32],[0.81,0.4],[0.84,0.48],[0.87,0.54],[0.9,0.57],[0.94,0.58],[0.96,0.66],[0.98,0.8],[1.0,0.98]];

const cdfD_BT   = [[0.4,0],[0.55,0.02],[0.65,0.05],[0.74,0.1],[0.82,0.18],[0.88,0.27],[0.95,0.34],[1.03,0.4],[1.12,0.42],[1.22,0.46],[1.3,0.52],[1.37,0.56],[1.46,0.6],[1.6,0.64],[1.8,0.68],[2.0,0.72],[2.2,0.77],[2.4,0.83],[2.6,0.89],[2.8,0.95],[3.0,0.97],[3.15,0.98]];
const cdfD_BTL4 = [[0.55,0],[0.75,0.1],[0.9,0.25],[1.05,0.33],[1.2,0.4],[1.35,0.45],[1.5,0.53],[1.65,0.58],[1.85,0.6],[2.0,0.6],[2.2,0.63],[2.4,0.64],[2.6,0.66],[2.7,0.72],[2.78,0.82],[2.85,0.9],[3.0,0.9],[3.15,0.91]];
const cdfD_NT   = [[-0.9,0],[-0.5,0.005],[0,0.015],[0.3,0.04],[0.55,0.07],[0.75,0.13],[0.93,0.24],[1.1,0.32],[1.32,0.41],[1.5,0.49],[1.7,0.57],[1.9,0.63],[2.1,0.68],[2.3,0.76],[2.5,0.83],[2.7,0.89],[2.9,0.94],[3.15,0.98]];
const cdfD_NTL4 = [[0.1,0],[0.4,0.05],[0.7,0.12],[0.95,0.25],[1.15,0.32],[1.35,0.38],[1.55,0.47],[1.75,0.55],[1.95,0.6],[2.15,0.7],[2.4,0.8],[2.6,0.87],[2.8,0.92],[3.0,0.94],[3.15,0.95]];

const cdfF_BT   = [[-0.25,0.01],[-0.1,0.04],[0,0.07],[0.2,0.11],[0.45,0.17],[0.7,0.23],[0.9,0.29],[1.2,0.36],[1.46,0.42],[1.75,0.49],[2.0,0.53],[2.2,0.57],[2.5,0.66],[2.75,0.74],[3.0,0.83],[3.2,0.89],[3.5,0.94],[3.9,0.97],[4.5,0.97],[5.2,0.97]];
const cdfF_BTL4 = [[-0.2,0],[0,0.13],[0.2,0.14],[0.45,0.15],[0.6,0.25],[0.9,0.39],[1.17,0.5],[1.4,0.51],[1.6,0.52],[1.7,0.7],[1.75,0.78],[2.0,0.81],[2.45,0.81],[2.8,0.88],[3.2,0.96],[3.5,0.97],[4.5,0.97],[6.0,0.98]];
const cdfF_NT   = [[-0.25,0],[0,0.02],[0.3,0.08],[0.6,0.16],[0.9,0.25],[1.2,0.33],[1.46,0.4],[1.7,0.46],[1.9,0.51],[2.1,0.57],[2.3,0.64],[2.6,0.73],[2.9,0.82],[3.1,0.88],[3.3,0.93],[3.6,0.96],[3.9,0.98],[4.5,0.99],[6.0,0.99]];
const cdfF_NTL4 = [[-0.2,0],[0.1,0.06],[0.4,0.17],[0.75,0.35],[1.0,0.43],[1.25,0.5],[1.5,0.53],[1.8,0.6],[2.1,0.66],[2.5,0.76],[2.9,0.86],[3.2,0.92],[3.6,0.97],[4.2,0.99],[6.0,1.0]];

const cdfH_BT   = [[0,0],[0.005,0.15],[0.01,0.22],[0.05,0.25],[0.12,0.27],[0.25,0.29],[0.36,0.31],[0.5,0.34],[0.6,0.37],[0.67,0.42],[0.72,0.46],[0.8,0.5],[0.9,0.53],[1.02,0.57],[1.12,0.62],[1.2,0.67],[1.3,0.74],[1.39,0.79],[1.48,0.85],[1.57,0.89],[1.66,0.92],[1.8,0.97]];
const cdfH_BTL4 = [[0,0],[0.01,0.3],[0.04,0.39],[0.18,0.39],[0.25,0.37],[0.35,0.42],[0.45,0.46],[0.55,0.5],[0.62,0.52],[0.7,0.6],[0.78,0.66],[0.9,0.67],[0.98,0.69],[1.08,0.76],[1.15,0.8],[1.22,0.86],[1.28,0.93],[1.36,0.97],[1.45,0.99],[1.6,1.0]];
const cdfH_NT   = [[0,0],[0.005,0.15],[0.015,0.22],[0.06,0.28],[0.15,0.32],[0.3,0.37],[0.42,0.42],[0.52,0.48],[0.6,0.55],[0.68,0.61],[0.78,0.68],[0.88,0.72],[1.0,0.77],[1.12,0.83],[1.25,0.88],[1.38,0.92],[1.5,0.96],[1.65,0.98],[1.8,0.99],[2.0,1.0],[2.55,1.0]];
const cdfH_NTL4 = [[0,0],[0.01,0.25],[0.04,0.33],[0.15,0.38],[0.3,0.45],[0.42,0.52],[0.54,0.59],[0.62,0.67],[0.72,0.76],[0.85,0.82],[0.96,0.88],[1.1,0.93],[1.2,0.96],[1.33,1.0],[1.45,1.0]];

// medians for panels B, D, F, H
const medianBT = [0.78, 1.37, 1.6, 0.77];
const medianNT = [0.80, 1.5, 1.57, 0.63];

// tick values
const qMajor = [1, 10];
const qMinor = [0.4,0.5,0.6,0.7,0.8,0.9,2,3,4,5,6,7,8,9];
const asiTicks = [0.1, 1];
const propTicks = [0, 0.25, 0.5, 0.75, 1];
const ticksB = [0, 0.25, 0.5, 0.75, 1];
const ticksD = [-1, 0, 1, 2, 3];
const ticksF = [0, 2, 4, 6];
const ticksH = [0, 0.5, 1, 1.5, 2, 2.5];
const skewTicks = [-1, 0, 1, 2, 3];
const thrTicks = [0, 3, 6];
const trnTicks = [0, 1, 2];

const statsText = ['r = 0.107, p = 0.0005', 'r = 0.046, p = 0.1339', 'r = 0.037, p = 0.31', 'r = \u22120.055, p = 0.12'];
const pText = ['p = 0.246', 'p = 0.072', 'p = 0.392', 'p = 0.081'];
const seriesNames = ['BT', 'BT Layer 4', 'NT', 'NT Layer 4'];

// ---------------- CHART ----------------
const FONT = '"Liberation Sans", Arial, Helvetica, sans-serif';
const L = Math.log10;
const fmt = v => (v < 0 ? '\u2212' : '') + String(Math.abs(Math.round(v * 100) / 100));

const gridBoxes = [
  {left:45, top:18, width:149, height:106},
  {left:259, top:25, width:146, height:99},
  {left:45, top:197, width:149, height:104},
  {left:256, top:201, width:152, height:99},
  {left:45, top:372, width:149, height:104},
  {left:258, top:376, width:147, height:99},
  {left:45, top:547, width:149, height:105},
  {left:258, top:553, width:148, height:99}
];
const grid = gridBoxes.map(g => Object.assign({outerBoundsMode:'none', containLabel:false, show:false}, g));

function axis(gi, min, max, ticks, fmtFn, margin, name, nameGap, isY, tickLen) {
  const a = {
    type:'value', gridIndex:gi, min:min, max:max,
    splitLine:{show:false},
    axisLine:{show:true, onZero:false, lineStyle:{color:'#000', width:1}},
    axisTick:{show:true, length:tickLen || 4, customValues:ticks, lineStyle:{color:'#000', width:1}},
    axisLabel:{customValues:ticks, formatter:fmtFn, margin:margin, color:'#000', fontSize:12, fontFamily:FONT},
    name:name, nameLocation:'middle', nameGap:nameGap,
    nameTextStyle:{color:'#000', fontSize:isY ? 13.5 : 13, fontFamily:FONT}
  };
  if (isY) { a.nameRotate = 90; a.position = 'left'; } else { a.position = 'bottom'; }
  return a;
}
const qMin = L(0.295), qMax = L(10.8);
const qT = qMajor.map(L);
const qFmt = v => String(Math.round(Math.pow(10, v)));

const xAxis = [
  axis(0, qMin, qMax, qT, qFmt, 11, 'Spectral Tuning (Q)', 25.5, false),
  axis(1, -0.043, 1.0, ticksB, fmt, 10, 'Nonlinearity ASI', 24.5, false),
  axis(2, qMin, qMax, qT, qFmt, 6, 'Spectral Tuning (Q)', 20.5, false),
  axis(3, -1.26, 3.14, ticksD, fmt, 6, 'Skewness', 21.5, false),
  axis(4, qMin, qMax, qT, qFmt, 11, 'Spectral Tuning (Q)', 27.5, false),
  axis(5, -0.29, 6.04, ticksF, fmt, 6, 'Threshold, \u03b8 (SD)', 21.5, false),
  axis(6, qMin, qMax, qT, qFmt, 14, 'Spectral Tuning (Q)', 30, false),
  axis(7, -0.12, 2.55, ticksH, fmt, 14, 'Transition, \u03c3 (SD)', 30, false)
];
[0, 2, 4, 6].forEach(gi => {
  xAxis.push({type:'value', gridIndex:gi, min:qMin, max:qMax, position:'bottom',
    splitLine:{show:false}, axisLine:{show:false, onZero:false},
    axisTick:{show:true, length:2.5, customValues:qMinor.map(L), lineStyle:{color:'#000', width:1}},
    axisLabel:{show:false}});
});
const yAxis = [
  axis(0, -1, 0.02, asiTicks.map(L), v => (v < -0.5 ? '0.1' : '1'), 6, 'Nonlinearity ASI', 28, true, 3),
  axis(1, 0, 1, propTicks, fmt, 8, 'Proportion', 33.5, true),
  axis(2, -1, 3.46, skewTicks, fmt, 6, 'Skewness', 26, true, 3),
  axis(3, 0, 1, propTicks, fmt, 8, 'Proportion', 31, true),
  axis(4, -1, 7, thrTicks, fmt, 6, 'Threshold, \u03b8 (SD)', 25, true, 3),
  axis(5, 0, 1, propTicks, fmt, 8, 'Proportion', 33, true),
  axis(6, 0, 2.5, trnTicks, fmt, 6, 'Transition, \u03c3 (SD)', 23, true, 3),
  axis(7, 0, 1, propTicks, fmt, 8, 'Proportion', 32, true)
];

const series = [];
function scat(pts, gi, logY) {
  series.push({type:'scatter', xAxisIndex:gi, yAxisIndex:gi, silent:true,
    data: pts.map(p => [L(p[0]), logY ? L(p[1]) : p[1]]),
    symbol:'circle', symbolSize:4.4,
    itemStyle:{color:'rgba(255,255,255,0)', borderColor:'#000', borderWidth:0.65}});
}
scat(scatterA, 0, true);
scat(scatterC, 2, false);
scat(scatterE, 4, false);
scat(scatterG, 6, false);

const styles = {
  'BT': {color:'#000', width:2.6, type:'solid'},
  'NT': {color:'#a8a8a8', width:3.6, type:'solid'},
  'BT Layer 4': {color:'#000', width:1.1, type:[3, 2]},
  'NT Layer 4': {color:'#bdbdbd', width:1.1, type:[3, 2]}
};
function cdf(name, data, gi) {
  const st = styles[name];
  series.push({type:'line', name:name, xAxisIndex:gi, yAxisIndex:gi, data:data,
    showSymbol:false, symbol:'none', silent:true, clip:true, color:st.color,
    itemStyle:{color:st.color},
    lineStyle:Object.assign({}, st)});
}
const cdfSets = [
  [1, cdfB_BT, cdfB_BTL4, cdfB_NT, cdfB_NTL4],
  [3, cdfD_BT, cdfD_BTL4, cdfD_NT, cdfD_NTL4],
  [5, cdfF_BT, cdfF_BTL4, cdfF_NT, cdfF_NTL4],
  [7, cdfH_BT, cdfH_BTL4, cdfH_NT, cdfH_NTL4]
];
const medStyleNT = [{c:'#a8a8a8', w:3}, {c:'#b0b0b0', w:1.6}, {c:'#a8a8a8', w:2}, {c:'#a8a8a8', w:1.6}];
const medStyleBT = [{c:'#000', w:1.3}, {c:'#333', w:1.6}, {c:'#000', w:1.5}, {c:'#333', w:1.6}];
cdfSets.forEach((s, i) => {
  const gi = s[0];
  cdf('BT', s[1], gi);
  cdf('NT', s[3], gi);
  cdf('BT Layer 4', s[2], gi);
  cdf('NT Layer 4', s[4], gi);
  series.push({type:'line', xAxisIndex:gi, yAxisIndex:gi, silent:true, symbol:'none', showSymbol:false,
    data:[[medianNT[i], 0], [medianNT[i], 1]], lineStyle:{color:medStyleNT[i].c, width:medStyleNT[i].w}});
  series.push({type:'line', xAxisIndex:gi, yAxisIndex:gi, silent:true, symbol:'none', showSymbol:false,
    data:[[medianBT[i], 0], [medianBT[i], 1]], lineStyle:{color:medStyleBT[i].c, width:medStyleBT[i].w}});
});

// legend icons (line samples)
const dashIcon = 'path://M0,0H3V1.1H0Z M5,0H8V1.1H5Z M10,0H13V1.1H10Z';
const legendData = [
  {name:'BT', icon:'path://M0,0H13V2.6H0Z', itemStyle:{color:'#000'}},
  {name:'BT Layer 4', icon:dashIcon, itemStyle:{color:'#000'}},
  {name:'NT', icon:'path://M0,0H13V3.4H0Z', itemStyle:{color:'#a8a8a8'}},
  {name:'NT Layer 4', icon:dashIcon, itemStyle:{color:'#bdbdbd'}}
];

const letterPos = [[51,8],[263,11],[52,180],[263,183],[52,363],[262,361],[52,538],[265,538]];
const graphic = [];
'ABCDEFGH'.split('').forEach((ch, i) => {
  graphic.push({type:'text', x:letterPos[i][0], y:letterPos[i][1], silent:true,
    style:{text:ch, fill:'#000', font:'17px ' + FONT, align:'center', verticalAlign:'middle', textAlign:'center', textVerticalAlign:'middle'}});
});
const statPos = [[83,9],[85,184],[81,365],[81,537]];
statsText.forEach((t, i) => {
  graphic.push({type:'text', x:statPos[i][0], y:statPos[i][1], silent:true,
    style:{text:t, fill:'#000', font:'8.5px ' + FONT, align:'left', verticalAlign:'middle', textAlign:'left', textVerticalAlign:'middle'}});
});
const pPos = [[265,111,'left'],[405,292,'right'],[404,467,'right'],[405,642,'right']];
pText.forEach((t, i) => {
  graphic.push({type:'text', x:pPos[i][0], y:pPos[i][1], silent:true,
    style:{text:t, fill:'#000', font:'8.5px ' + FONT, align:pPos[i][2], verticalAlign:'middle', textAlign:pPos[i][2], textVerticalAlign:'middle'}});
});

const chart = echarts.init(document.getElementById('c'), null, {renderer:'canvas'});
chart.setOption({
  animation:false,
  backgroundColor:'#fff',
  grid:grid,
  xAxis:xAxis,
  yAxis:yAxis,
  legend:{show:true, data:legendData, orient:'vertical', left:266, top:38, padding:0,
    itemWidth:13, itemHeight:12, itemGap:2.3, selectedMode:false, symbolKeepAspect:true,
    textStyle:{color:'#000', fontSize:12, fontFamily:FONT, lineHeight:12}},
  series:series,
  graphic:graphic
});
</script></body></html>
